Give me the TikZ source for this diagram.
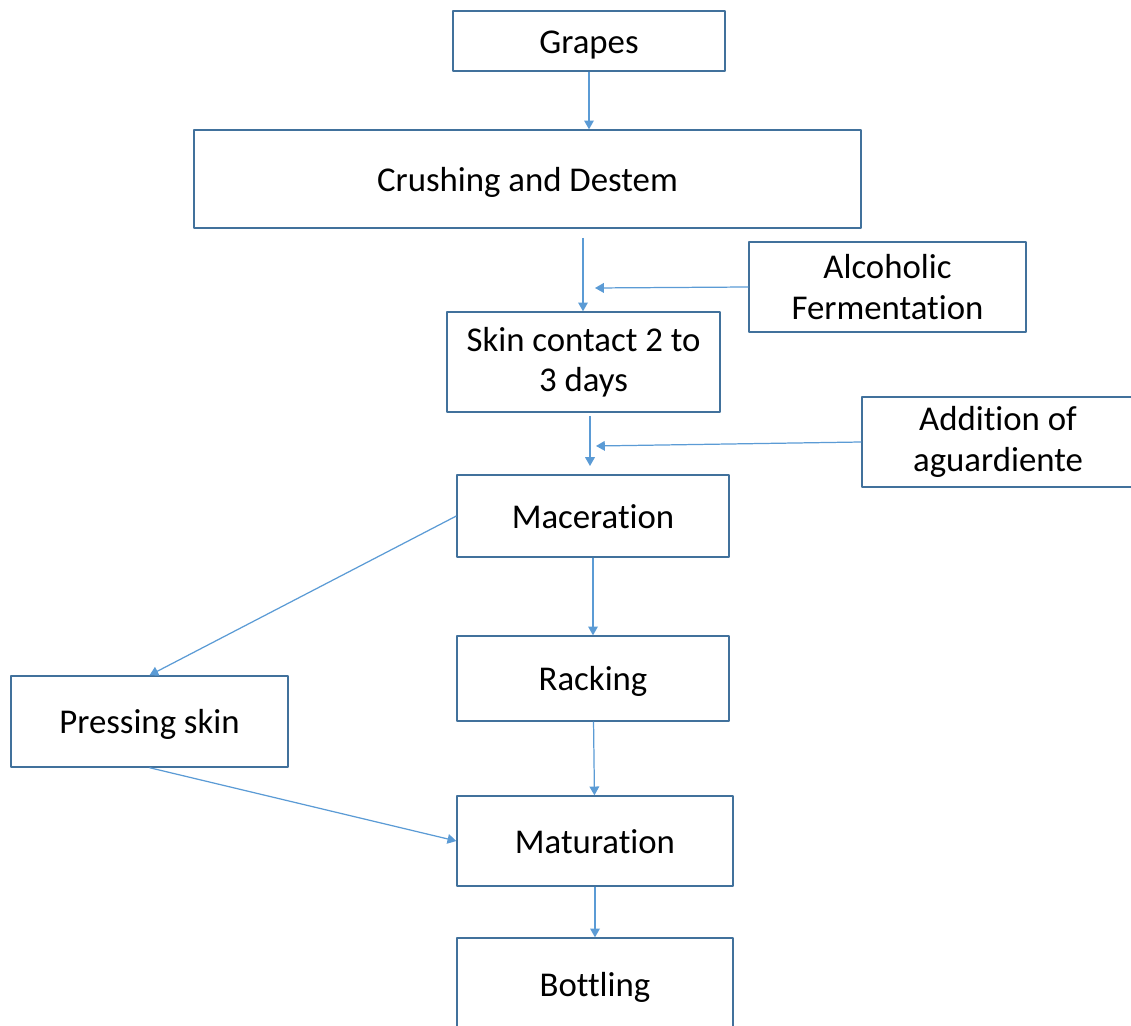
\documentclass[tikz,border=0pt]{standalone}
\usepackage{fontspec}
\setmainfont{Carlito}[Ligatures=NoCommon]
\usetikzlibrary{arrows.meta}
\definecolor{boxline}{RGB}{65,113,156}
\definecolor{arrline}{RGB}{91,155,213}
\tikzset{
  stage/.style={draw=boxline, line width=0.8pt, fill=white, align=center, inner sep=0pt},
  oneline/.style={text height=17pt, text depth=3pt},
  flow/.style={draw=arrline, line width=0.7pt, -{Triangle[length=5pt,width=5.5pt]}},
}
\begin{document}
\begin{tikzpicture}[x=0.02cm, y=-0.02cm, font=\fontsize{19.8}{23}\selectfont, line join=round]
\clip (0,0) rectangle (1131,1026);
% stages
\node[stage, oneline, minimum width=5.44cm, minimum height=1.2cm] (grapes) at (589,41) {Grapes};
\node[stage, oneline, minimum width=13.34cm, minimum height=1.96cm] (crushing) at (527.5,179) {Crushing and Destem};
\node[stage, minimum width=5.54cm, minimum height=1.8cm] (alcoholic) at (887.5,287) {Alcoholic\\Fermentation};
\node[stage, minimum width=5.46cm, minimum height=2cm] (skin) at (583.5,362) {Skin contact 2 to\\3 days};
\node[stage, minimum width=5.44cm, minimum height=1.8cm] (addition) at (998,442) {Addition of\\aguardiente};
\node[stage, oneline, minimum width=5.44cm, minimum height=1.64cm] (maceration) at (593,516) {Maceration};
\node[stage, oneline, minimum width=5.54cm, minimum height=1.82cm] (pressing) at (149.5,721.5) {Pressing skin};
\node[stage, oneline, minimum width=5.44cm, minimum height=1.7cm] (racking) at (593,678.5) {Racking};
\node[stage, oneline, minimum width=5.52cm, minimum height=1.8cm] (maturation) at (595,841) {Maturation};
\node[stage, oneline, minimum width=5.52cm, minimum height=1.84cm] (bottling) at (595,984) {Bottling};
% free ends
\coordinate (c1) at (583,238);
\coordinate (c2) at (595,288);
\coordinate (s1) at (590,416);
\coordinate (s2) at (590,466);
\coordinate (a1) at (596,446);
% arrows
\draw[flow] (grapes.south) -- (grapes.south |- crushing.north);
\draw[flow] (c1) -- (c1 |- skin.north);
\draw[flow] (alcoholic.west) -- (c2);
\draw[flow] (s1) -- (s2);
\draw[flow] (addition.west) -- (a1);
\draw[flow] (maceration.west) -- (pressing.north);
\draw[flow] (maceration) -- (racking);
\draw[flow] (racking) -- (maturation);
\draw[flow] (pressing.south) -- (maturation.west);
\draw[flow] (maturation) -- (bottling);
\end{tikzpicture}
\end{document}
